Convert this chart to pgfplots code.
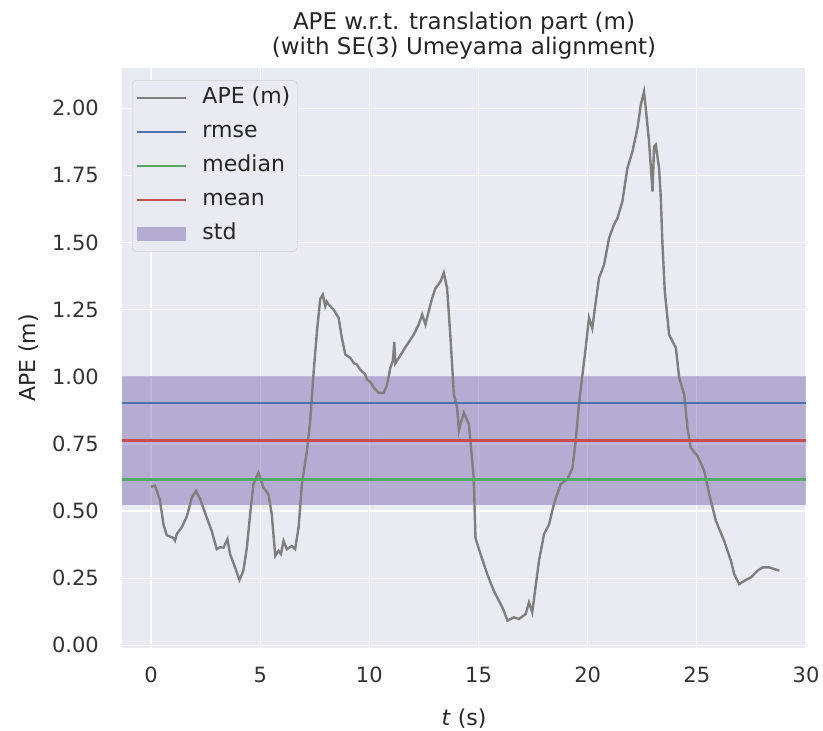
\documentclass[border=0pt]{standalone}
\usepackage{pgfplots}
\pgfplotsset{compat=1.18}
\usepackage{fontspec}
\setmainfont{DejaVu Sans}
\definecolor{bg}{HTML}{EAEAF2}
\definecolor{rmsec}{HTML}{4C72B0}
\definecolor{medc}{HTML}{55A868}
\definecolor{meanc}{HTML}{C44E52}
\definecolor{stdc}{HTML}{8172B2}
\definecolor{apec}{HTML}{7F7F7F}
\definecolor{legedge}{HTML}{CCCCCC}
\begin{document}
\begin{tikzpicture}
\path[use as bounding box] (-122bp,-83bp) rectangle (701bp,648bp);
\begin{axis}[
  at={(0,0)}, anchor=south west,
  scale only axis, width=684bp, height=580bp,
  xmin=-1.33, xmax=30.0, ymin=-0.01, ymax=2.15,
  axis background/.style={fill=bg},
  axis line style={draw=none},
  grid=major, grid style={white, line width=1.3bp},
  major tick length=0pt,
  xtick={0,5,10,15,20,25,30},
  ytick={0,0.25,0.5,0.75,1,1.25,1.5,1.75,2},
  /pgf/number format/assume math mode=true,
  tick label style={font=\fontsize{21bp}{25bp}\selectfont, text=black!80},
  yticklabel style={/pgf/number format/.cd, fixed, fixed zerofill, precision=2, /tikz/.cd, anchor=east, inner sep=0pt, xshift=-23bp},
  xticklabel style={anchor=north, inner sep=0pt, yshift=-19bp},
  title={APE w.r.t. translation part (m)\\(with SE(3) Umeyama alignment)},
  title style={align=center, font=\fontsize{23bp}{25bp}\selectfont, at={(0.5,1)}, anchor=south, inner sep=0pt, yshift=3bp, text=black!85},
  xlabel={\textit{t} (s)},
  ylabel={APE (m)},
  xlabel style={at={(axis description cs:0.5,0)}, anchor=base, yshift=-77bp, font=\fontsize{22bp}{25bp}\selectfont, text=black!85},
  ylabel style={at={([xshift=-93bp]axis description cs:0,0.5)}, anchor=center, font=\fontsize{22bp}{25bp}\selectfont, text=black!85},
  legend image code/.code={\draw[#1, sharp corners] (0bp,0bp) -- (49bp,0bp); \path[draw=none,fill=none] (0bp,0bp) -- (62bp,0bp);},
  legend cell align=left,
  legend style={at={(0.0146,0.979)}, anchor=north west, draw=legedge, fill=bg, rounded corners=4bp,
    font=\fontsize{22bp}{25bp}\selectfont, text=black!85,
    inner xsep=4bp, inner ysep=4bp, row sep=7bp,
    nodes={text height=16bp, text depth=5bp, inner sep=3bp}},
]
\addplot[draw=none, fill=stdc, fill opacity=0.5, forget plot] coordinates {(-1.33,0.522) (30,0.522) (30,1.002) (-1.33,1.002)} -- cycle;
\addplot[apec, line width=2.4bp] table {
0.00 0.59
0.18 0.595
0.41 0.54
0.57 0.45
0.72 0.41
0.87 0.405
1.02 0.40
1.10 0.39
1.18 0.415
1.41 0.44
1.64 0.48
1.87 0.55
2.06 0.575
2.25 0.545
2.55 0.476
2.78 0.426
3.01 0.358
3.15 0.365
3.32 0.364
3.50 0.395
3.62 0.34
3.85 0.29
4.05 0.243
4.23 0.278
4.39 0.364
4.54 0.488
4.69 0.60
4.92 0.643
5.15 0.587
5.38 0.562
5.53 0.488
5.69 0.333
5.84 0.352
5.95 0.34
6.07 0.389
6.22 0.358
6.45 0.37
6.60 0.358
6.76 0.44
6.91 0.60
6.99 0.643
7.14 0.724
7.29 0.835
7.45 1.02
7.60 1.17
7.75 1.29
7.87 1.306
7.98 1.263
8.05 1.28
8.13 1.27
8.36 1.25
8.59 1.22
8.75 1.14
8.90 1.083
9.13 1.07
9.30 1.05
9.43 1.046
9.55 1.03
9.66 1.02
9.80 1.01
9.89 0.99
10.05 0.98
10.20 0.96
10.43 0.94
10.66 0.94
10.81 0.97
10.96 1.033
11.08 1.06
11.14 1.13
11.19 1.05
11.42 1.08
11.73 1.12
12.03 1.157
12.26 1.195
12.42 1.232
12.57 1.195
12.72 1.244
12.88 1.294
13.03 1.33
13.26 1.355
13.41 1.387
13.56 1.33
13.72 1.14
13.87 0.934
14.02 0.885
14.10 0.80
14.17 0.823
14.33 0.866
14.56 0.823
14.78 0.625
14.86 0.40
15.09 0.34
15.40 0.265
15.70 0.203
16.01 0.154
16.16 0.129
16.32 0.092
16.62 0.104
16.85 0.098
17.16 0.116
17.31 0.16
17.46 0.123
17.61 0.216
17.77 0.315
18.00 0.414
18.23 0.45
18.45 0.525
18.76 0.60
19.07 0.618
19.30 0.66
19.45 0.76
19.60 0.897
19.76 1.008
19.91 1.108
20.06 1.22
20.21 1.18
20.37 1.28
20.52 1.368
20.75 1.417
20.98 1.517
21.20 1.566
21.36 1.59
21.59 1.653
21.82 1.777
22.05 1.839
22.28 1.926
22.43 2.012
22.58 2.062
22.66 2.0
22.81 1.876
22.97 1.69
23.04 1.857
23.12 1.864
23.27 1.777
23.35 1.665
23.42 1.504
23.53 1.319
23.73 1.157
23.96 1.12
24.04 1.108
24.19 0.996
24.42 0.934
24.57 0.81
24.72 0.736
25.03 0.705
25.34 0.65
25.57 0.562
25.87 0.464
26.25 0.389
26.56 0.315
26.71 0.265
26.94 0.228
27.17 0.24
27.48 0.253
27.78 0.278
28.01 0.29
28.32 0.29
28.55 0.284
28.78 0.278
};
\addlegendentry{APE (m)}
\addplot[rmsec, line width=2.6bp] coordinates {(-1.33,0.903) (30,0.903)};
\addlegendentry{rmse}
\addplot[medc, line width=2.6bp] coordinates {(-1.33,0.617) (30,0.617)};
\addlegendentry{median}
\addplot[meanc, line width=2.6bp] coordinates {(-1.33,0.762) (30,0.762)};
\addlegendentry{mean}
\addlegendimage{draw=none, legend image code/.code={\fill[stdc, fill opacity=0.5, draw=none, sharp corners] (0bp,-7bp) rectangle (49bp,7bp); \path[draw=none,fill=none] (0bp,0bp) -- (62bp,0bp);}}
\addlegendentry{std}
\end{axis}
\end{tikzpicture}
\end{document}
